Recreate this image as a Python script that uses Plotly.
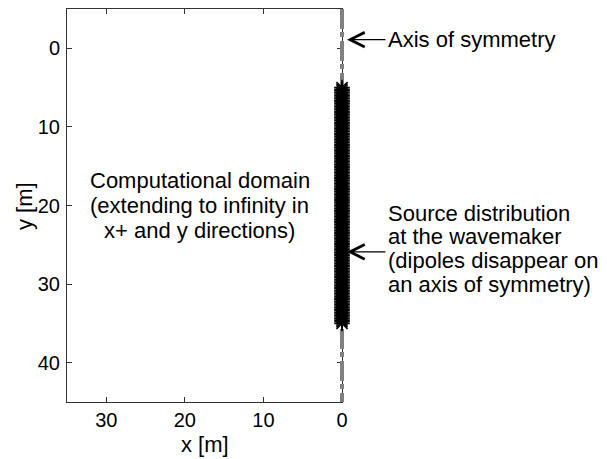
import numpy as np
import plotly.graph_objects as go

# Domain extents [m]
x_range = [35, 0]
y_range = [45, -5]

# Axis of symmetry (x = 0), full height of the domain
sym_x = [0, 0]
sym_y = [-5, 45]

# Source panels along the wavemaker, x = 0, y from 5 to 35 m
src_y = np.linspace(5, 35, 151)
src_x = np.zeros_like(src_y)

x_ticks = [30, 20, 10, 0]
y_ticks = [0, 10, 20, 30, 40]

domain_lines = ["Computational domain",
                "(extending to infinity in",
                "x+ and y directions)"]
domain_line_y = [16.8, 20.0, 23.2]
domain_text_x = 18.1

source_lines = ["Source distribution",
                "at the wavemaker",
                "(dipoles disappear on",
                "an axis of symmetry)"]
source_line_y = [21.0, 24.0, 27.0, 30.0]
source_arrow_y = 25.9

sym_label = "Axis of symmetry"
sym_label_y = -1.1

FONT = "Liberation Sans, Arial, Helvetica, sans-serif"
TXT = 22

W, H = 607, 459
L, T, B = 67, 9, 57
plot_w = 275                 # width of the framed axes box
extra = 20                   # room right of the box so the x=0 lines are not clipped
R = W - L - plot_w - extra
pw, ph = W - L - R, H - T - B
frac = plot_w / pw


def px_x(p):
    """Horizontal pixel position -> paper coordinate."""
    return (p - L) / pw


def px_y(p):
    """Vertical pixel position (from top) -> paper coordinate."""
    return (H - B - p) / ph


fig = go.Figure()

# Overlay axes sharing the same scale but reaching a bit past x = 0
x2_right = x_range[1] - extra * (x_range[0] - x_range[1]) / plot_w

fig.add_trace(go.Scatter(
    x=sym_x, y=sym_y, mode="lines", xaxis="x2", yaxis="y2",
    line=dict(color="#808080", width=4, dash="20px,3px,5px,4px"),
    showlegend=False, hoverinfo="skip"))

fig.add_trace(go.Scatter(
    x=src_x, y=src_y, mode="lines+markers", xaxis="x2", yaxis="y2",
    line=dict(color="black", width=2),
    marker=dict(symbol="asterisk-open", size=13, color="black",
                line=dict(color="black", width=1.5)),
    cliponaxis=False, showlegend=False, hoverinfo="skip"))

annotations = []
for txt, yy in zip(domain_lines, domain_line_y):
    annotations.append(dict(x=domain_text_x, y=yy, xref="x", yref="y",
                            text=txt, showarrow=False, xanchor="center",
                            yanchor="middle",
                            font=dict(family=FONT, size=TXT, color="black")))

text_left = px_x(386)
for txt, yy in zip(source_lines, source_line_y):
    annotations.append(dict(x=text_left, y=yy, xref="paper", yref="y",
                            text=txt, showarrow=False, xanchor="left",
                            yanchor="middle",
                            font=dict(family=FONT, size=TXT, color="black")))

annotations.append(dict(x=text_left, y=sym_label_y, xref="paper", yref="y",
                        text=sym_label, showarrow=False, xanchor="left",
                        yanchor="middle",
                        font=dict(family=FONT, size=TXT, color="black")))

# Arrows pointing at the axis line
for yy in [sym_label_y, source_arrow_y]:
    annotations.append(dict(x=0, y=yy, xref="x2", yref="y2", text="",
                            showarrow=True, arrowhead=5, arrowsize=2.2,
                            arrowwidth=1.3, arrowcolor="black",
                            ax=45, ay=0, standoff=5))

# Axis titles
annotations.append(dict(x=px_x(L + plot_w / 2), y=px_y(444), xref="paper",
                        yref="paper", text="x [m]", showarrow=False,
                        xanchor="center", yanchor="middle",
                        font=dict(family=FONT, size=TXT, color="black")))
annotations.append(dict(x=px_x(24), y=px_y(206), xref="paper", yref="paper",
                        text="y [m]", showarrow=False, textangle=-90,
                        xanchor="center", yanchor="middle",
                        font=dict(family=FONT, size=TXT, color="black")))

axis_common = dict(showgrid=False, zeroline=False, showline=True,
                   linecolor="#333333", linewidth=1, mirror="ticks",
                   ticks="inside", ticklen=5, tickcolor="#333333",
                   tickfont=dict(family=FONT, size=20, color="black"))

hidden = dict(visible=False, showgrid=False, zeroline=False)

fig.update_layout(
    width=W, height=H,
    margin=dict(l=L, r=R, t=T, b=B, pad=0),
    plot_bgcolor="rgba(0,0,0,0)", paper_bgcolor="white",
    xaxis=dict(range=x_range, tickvals=x_ticks, ticklabelstandoff=0,
               domain=[0, frac], **axis_common),
    yaxis=dict(range=y_range, tickvals=y_ticks, ticklabelstandoff=2,
               domain=[0, 1], **axis_common),
    xaxis2=dict(range=[x_range[0], x2_right], domain=[0, 1], anchor="y2",
                **hidden),
    yaxis2=dict(range=y_range, domain=[0, 1], anchor="x2", **hidden),
    annotations=annotations,
    showlegend=False,
)

fig.write_html("out.html")
